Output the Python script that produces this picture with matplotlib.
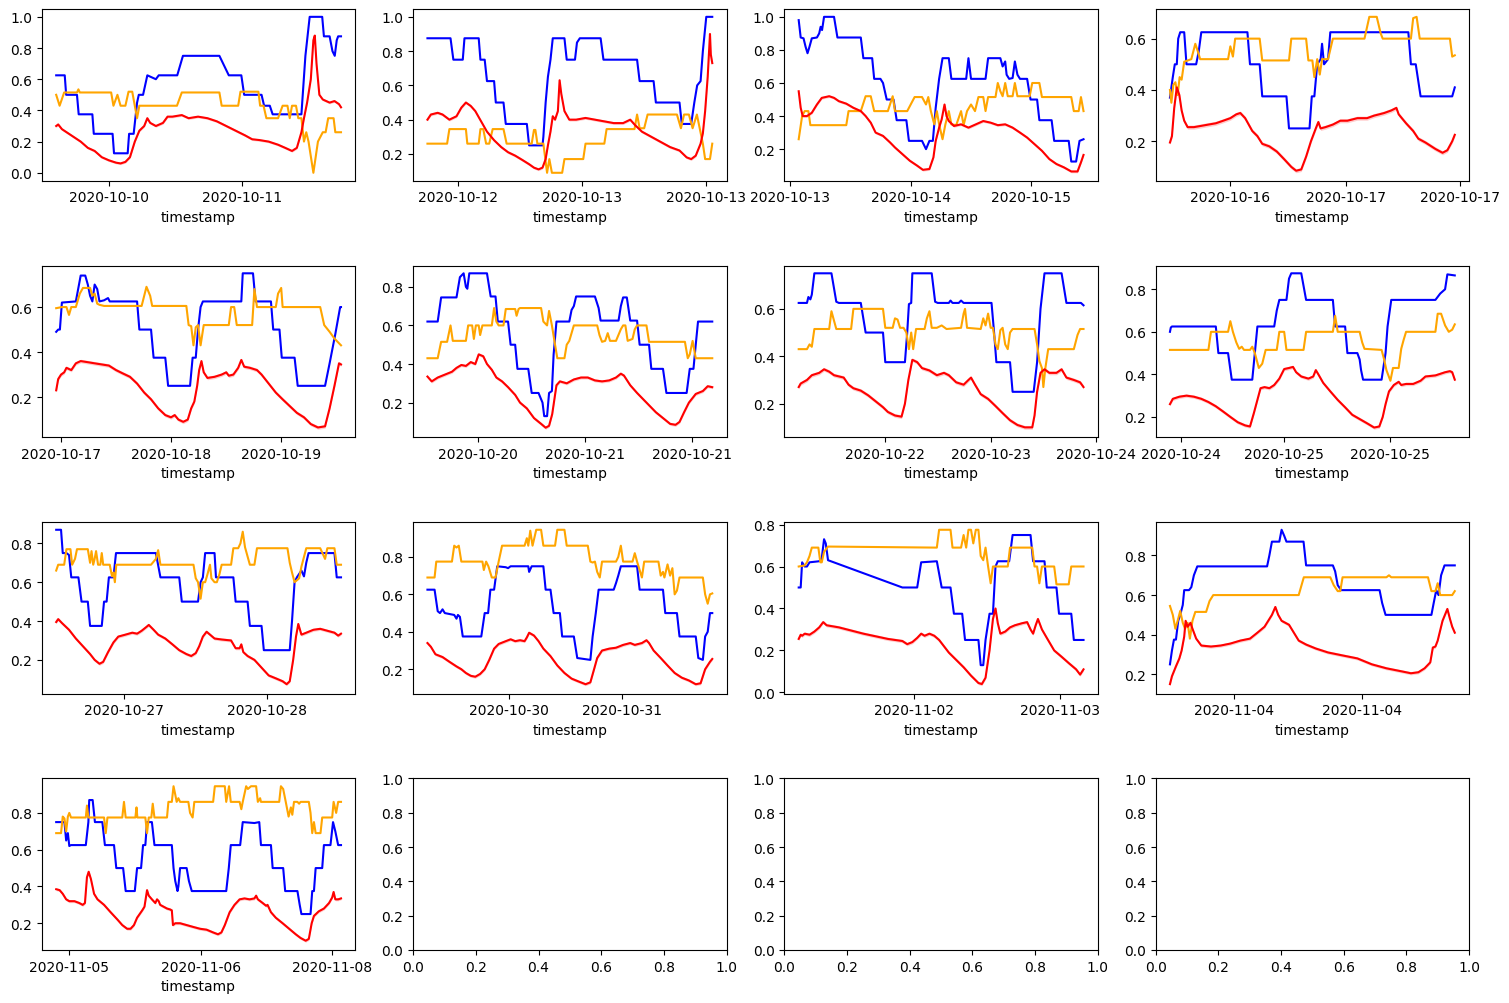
import matplotlib
matplotlib.use("Agg")
import matplotlib.pyplot as plt
import numpy as np

# ---------------- data (x = position along each window, 0..100; y = value) ----------------
P1_BLUE = [(0,.625),(3,.625),(3.5,.5),(7.3,.5),(7.9,.375),(12.7,.375),(13.2,.25),(19.8,.25),(20.3,.125),(25.1,.125),(25.6,.25),(27.2,.25),(28.4,.45),(29,.5),(30.5,.5),(32,.625),(35,.6),(36,.625),(42.5,.625),(44.5,.75),(57.3,.75),(60.6,.625),(65,.625),(66,.5),(72.1,.5),(73,.43),(75,.43),(76,.375),(86.1,.375),(87.5,.75),(89,1.0),(93.4,1.0),(94,.875),(96,.875),(97,.78),(97.8,.75),(98.5,.85),(99,.875),(100,.875)]
P1_ORANGE = [(0,.5),(1.2,.43),(2.8,.515),(7.3,.515),(7.8,.535),(8.3,.515),(19.3,.515),(20.1,.43),(21.5,.5),(22.6,.43),(24.3,.43),(25.4,.52),(26.7,.52),(28.4,.35),(29.2,.43),(42.4,.43),(44.1,.515),(57.3,.515),(58.1,.43),(63.9,.43),(64.7,.52),(71,.52),(71.6,.43),(72.8,.43),(73.8,.35),(77.9,.35),(79.5,.43),(81.2,.43),(82,.35),(82.8,.43),(84.2,.43),(85,.35),(86.1,.35),(87,.2),(87.8,.26),(88.6,.2),(90.3,0.0),(91.9,.2),(93.6,.26),(94.6,.26),(95.5,.35),(97.4,.35),(98,.26),(100,.26)]
P1_RED = [(0,.30),(0.7,.31),(2,.28),(5.3,.24),(8.6,.2),(11.1,.16),(13.5,.14),(16,.1),(18.5,.08),(21,.065),(22.6,.06),(24.3,.07),(25.9,.1),(27.6,.2),(29.2,.27),(30.9,.3),(32,.35),(33,.32),(35,.3),(37.5,.32),(39.1,.36),(40.8,.36),(44.1,.37),(46.5,.35),(49.8,.36),(53.1,.35),(56.4,.33),(59.7,.3),(63,.27),(66.3,.24),(68.8,.215),(71.3,.21),(74.6,.2),(77.9,.18),(80.4,.16),(82.8,.14),(84.5,.16),(86.1,.26),(87,.35),(88.1,.45),(89.4,.6),(90.3,.85),(90.8,.88),(91.4,.7),(92.4,.5),(93.6,.47),(96,.45),(97.7,.46),(99.3,.44),(100,.42)]
P1_TICKS = [18.6, 65.2]
P1_LABELS = ["2020-10-10", "2020-10-11"]

P2_BLUE = [(0,.875),(8.1,.875),(9.1,.75),(12.4,.75),(13,.875),(18,.875),(18.6,.75),(20.1,.75),(20.9,.625),(23.4,.625),(24,.5),(26.7,.5),(27.5,.375),(34.9,.375),(35.7,.25),(40.4,.25),(40.7,.3),(41.5,.5),(42.3,.65),(43.2,.75),(44,.875),(48.1,.875),(48.9,.75),(51.8,.75),(52.5,.85),(53.5,.875),(60.8,.875),(61.8,.75),(73.6,.75),(74.5,.625),(79.4,.625),(80.2,.5),(88.5,.5),(89.3,.375),(92.6,.375),(93.7,.5),(94.7,.6),(95.9,.625),(96.7,.8),(97.9,1.0),(100,1.0)]
P2_ORANGE = [(0,.26),(6.9,.26),(7.7,.345),(13.5,.345),(14,.26),(18,.26),(18.6,.345),(19.6,.345),(20.6,.26),(21.7,.26),(22.9,.345),(26.7,.345),(27.8,.26),(36.6,.26),(37.4,.34),(37.9,.34),(38.6,.26),(40.7,.26),(42,.09),(42.8,.17),(43.7,.09),(47.3,.09),(48.1,.17),(54.7,.17),(55.5,.26),(62.1,.26),(62.9,.345),(72.7,.345),(73.6,.43),(74.5,.35),(76.1,.35),(77.3,.43),(87.6,.43),(89,.35),(90.1,.43),(91.8,.43),(93.1,.35),(94.6,.43),(96.7,.26),(97.5,.17),(99.2,.17),(100,.26)]
P2_RED = [(0,.40),(1.2,.43),(3.6,.44),(5.3,.43),(7.7,.40),(10.2,.42),(11.9,.47),(13.5,.50),(15.2,.48),(16.8,.45),(18.5,.40),(20.9,.33),(23.4,.28),(25.9,.24),(28.3,.21),(30.8,.19),(33.3,.165),(35.7,.14),(37.4,.12),(39,.11),(40.4,.12),(41.5,.17),(42.3,.25),(43.2,.33),(44,.42),(44.8,.40),(45.8,.45),(46.4,.63),(47,.55),(48.1,.45),(49.8,.40),(52.2,.40),(55.5,.41),(58.8,.40),(62.1,.39),(65.4,.38),(68.7,.38),(71.2,.40),(72.8,.37),(75.3,.33),(78.6,.30),(81.9,.27),(85.2,.24),(88.5,.22),(91,.18),(92.6,.17),(94.2,.19),(95.9,.26),(96.7,.32),(97.5,.45),(98.4,.65),(99.2,.90),(99.5,.78),(100,.73)]
P2_TICKS = [10.7, 54.4, 97.9]
P2_LABELS = ["2020-10-12", "2020-10-13", "2020-10-13"]

P3_BLUE = [(0,.98),(0.7,.875),(1.7,.87),(2.4,.82),(3.1,.78),(3.8,.82),(4.6,.87),(6.4,.875),(7.2,.9),(7.7,.94),(8.2,.92),(8.9,1.0),(12.4,1.0),(13.6,.875),(21.8,.875),(22.7,.75),(25.8,.75),(26.5,.625),(28.7,.625),(29.6,.6),(30.9,.5),(33.3,.5),(34.4,.375),(37.8,.375),(38.7,.25),(43.3,.25),(44.7,.2),(45.9,.25),(47.1,.25),(48.1,.45),(49.3,.625),(50.5,.75),(52.7,.75),(53.6,.625),(58.8,.625),(59.6,.75),(60.5,.625),(65.6,.625),(66.5,.75),(70.8,.75),(71.6,.7),(72.5,.73),(73,.65),(73.9,.625),(75.1,.63),(75.9,.73),(76.8,.65),(77.7,.625),(80.2,.625),(81.4,.5),(83.7,.5),(84.5,.375),(88.8,.375),(89.7,.25),(94.8,.25),(95.7,.125),(97.4,.125),(98.6,.25),(100,.26)]
P3_ORANGE = [(0,.26),(1.2,.40),(2.1,.43),(3.4,.43),(4.1,.345),(16.7,.345),(17.5,.43),(21.8,.43),(23.5,.52),(25.3,.52),(26.5,.43),(31.3,.43),(33,.52),(33.8,.43),(38.1,.43),(40.7,.515),(43.3,.515),(44.7,.47),(45.5,.515),(46.4,.43),(47.6,.35),(48.5,.43),(49.3,.35),(50.5,.26),(51.5,.35),(52.7,.43),(53.6,.35),(55.3,.345),(57,.43),(57.9,.345),(59.1,.43),(60.5,.47),(61.9,.43),(63.1,.515),(64.8,.515),(65.6,.43),(66.5,.515),(69.1,.515),(69.9,.6),(70.8,.55),(71.6,.52),(72.5,.6),(73.4,.52),(75.1,.52),(75.9,.6),(76.8,.52),(81.1,.52),(82,.6),(84.5,.6),(85.4,.515),(95.7,.515),(96.6,.43),(98.3,.43),(99.1,.515),(100,.43)]
P3_RED = [(0,.55),(0.7,.45),(1.4,.40),(2.9,.40),(4.6,.42),(6.4,.47),(8.1,.51),(10.7,.52),(12.4,.51),(14.1,.49),(16.7,.475),(19.2,.45),(21.8,.43),(23.5,.40),(25.3,.36),(27,.30),(29.6,.28),(32.1,.24),(33.8,.21),(36.4,.17),(39,.13),(41.6,.10),(43.6,.075),(45.9,.08),(47.3,.15),(48.1,.25),(49.3,.33),(50.2,.38),(51.2,.47),(51.9,.40),(52.7,.37),(54.5,.34),(57,.35),(59.6,.33),(62.2,.35),(64.8,.37),(67.4,.36),(69.9,.345),(72.5,.35),(75.1,.33),(77.7,.30),(80.2,.27),(82.8,.23),(85.4,.19),(88,.14),(90.5,.11),(93.1,.09),(95.7,.065),(97.9,.065),(99.1,.12),(100,.165)]
P3_TICKS = [-3.1, 39.5, 81.4]
P3_LABELS = ["2020-10-13", "2020-10-14", "2020-10-15"]

P4_BLUE = [(0,.37),(1,.45),(1.7,.5),(2.4,.5),(2.9,.6),(3.6,.625),(5,.625),(5.8,.5),(9.2,.5),(10.1,.55),(11,.625),(27.2,.625),(28.1,.5),(31.5,.5),(32.4,.375),(40.9,.375),(41.8,.25),(49,.25),(49.8,.375),(50.7,.375),(51.7,.5),(52.9,.52),(53.4,.58),(54.1,.5),(55.5,.52),(56.3,.625),(83.7,.625),(84.6,.5),(86.3,.5),(88,.375),(99.1,.375),(100,.41)]
P4_ORANGE = [(0,.40),(0.5,.35),(1.2,.42),(1.9,.43),(2.7,.38),(3.4,.45),(4.1,.44),(5,.51),(7.5,.52),(8.9,.58),(9.8,.55),(10.6,.52),(20.4,.52),(21.2,.57),(22.1,.53),(22.9,.6),(31.5,.6),(32.4,.515),(41.8,.515),(42.6,.6),(47.8,.6),(48.6,.515),(50,.515),(50.7,.45),(51.7,.52),(52.6,.46),(53.4,.52),(55.5,.52),(57.2,.6),(68.3,.6),(70,.685),(72.6,.685),(74,.62),(74.7,.6),(84.6,.6),(85.4,.68),(86.6,.685),(87.7,.6),(98.3,.6),(99.1,.53),(100,.535)]
P4_RED = [(0,.195),(0.7,.22),(1.5,.33),(2.4,.41),(3.3,.38),(4.1,.32),(5,.28),(6.2,.255),(8.4,.255),(11,.26),(13.5,.265),(16.1,.27),(18.7,.28),(21.2,.29),(23.3,.305),(24.7,.31),(26.4,.29),(28.9,.24),(30.7,.22),(32.4,.19),(34.9,.18),(37.5,.16),(40.1,.13),(42.6,.10),(44.3,.085),(46.1,.09),(47.8,.14),(49.5,.20),(51.2,.25),(52.1,.275),(52.9,.25),(54.6,.255),(57.2,.265),(59.8,.28),(62.3,.28),(65.8,.29),(69.2,.29),(71.7,.30),(73.5,.305),(75.2,.31),(77.7,.32),(79.5,.33),(80.3,.305),(82.9,.27),(85.4,.24),(87.2,.21),(89.7,.195),(93.2,.17),(95.7,.155),(97.4,.165),(99.1,.20),(100,.225)]
P4_TICKS = [21.2, 61.8, 101.7]
P4_LABELS = ["2020-10-16", "2020-10-17", "2020-10-17"]

P5_BLUE = [(0,.49),(0.7,.5),(1.3,.5),(2,.62),(6.9,.625),(8.6,.74),(10.2,.74),(11.1,.7),(11.9,.65),(12.7,.625),(13.5,.7),(14.4,.68),(15.2,.625),(16.8,.63),(18.2,.64),(18.8,.625),(28.4,.625),(29.2,.5),(33.3,.5),(34.2,.375),(38.3,.375),(39.3,.25),(47,.25),(47.9,.375),(49,.375),(49.8,.5),(50.7,.6),(51.5,.625),(65,.625),(65.5,.75),(69.1,.75),(70,.625),(75.4,.625),(76.2,.5),(78.4,.5),(79.2,.375),(83.7,.375),(84.8,.25),(94.4,.25),(96,.35),(98,.48),(99.7,.6),(100,.6)]
P5_ORANGE = [(0,.595),(2,.60),(3.6,.6),(4.5,.565),(5.3,.6),(6.9,.6),(8.3,.66),(9.4,.685),(11.9,.685),(12.7,.65),(13.5,.66),(14.4,.615),(15.2,.61),(16.8,.605),(30,.605),(30.9,.65),(31.7,.69),(33,.65),(33.7,.605),(45.7,.605),(46.5,.52),(47.4,.515),(48.2,.43),(49,.51),(49.8,.52),(50.7,.43),(51.8,.52),(60.6,.52),(61.4,.6),(62.5,.6),(63.4,.52),(68.8,.52),(69.6,.68),(70.5,.6),(77.1,.6),(77.9,.66),(79,.685),(79.5,.6),(92.7,.6),(94.1,.52),(96,.49),(97.7,.46),(100,.43)]
P5_RED = [(0,.23),(0.7,.28),(1.7,.30),(2.8,.31),(3.6,.33),(5.3,.32),(6.9,.35),(8.6,.36),(11.1,.355),(13.5,.35),(16,.345),(18.5,.34),(21,.32),(23.4,.305),(25.9,.29),(28.4,.26),(30.9,.22),(33.3,.19),(35.8,.15),(38.3,.12),(40.3,.11),(41.6,.12),(42.9,.10),(44.6,.09),(46.2,.10),(47.4,.15),(48.5,.18),(49.5,.25),(50.2,.32),(51,.36),(51.8,.31),(53.1,.285),(55.6,.29),(58.1,.30),(59.7,.31),(60.6,.295),(62.2,.30),(63.9,.33),(65,.365),(66,.335),(68,.33),(70.5,.32),(72.1,.30),(74.6,.26),(77.1,.22),(79.5,.19),(82,.16),(84.5,.13),(87,.11),(89.4,.08),(91.9,.065),(94.4,.07),(96,.15),(97.7,.25),(99.3,.35),(100,.345)]
P5_TICKS = [1.7, 40.3, 79.0]
P5_LABELS = ["2020-10-17", "2020-10-18", "2020-10-19"]

P6_BLUE = [(0,.62),(3.6,.62),(4.8,.745),(10.2,.745),(11.4,.85),(12.7,.87),(13.5,.8),(14,.79),(14.7,.87),(20.9,.87),(22.2,.75),(23.9,.75),(24.7,.62),(28.3,.62),(29.2,.5),(30.8,.5),(31.6,.375),(35.4,.375),(36.6,.25),(39,.25),(40.4,.2),(41,.13),(42,.13),(42.7,.25),(43.7,.26),(44.3,.45),(45.3,.62),(49.8,.62),(50.6,.68),(51.4,.7),(52.2,.75),(58.8,.75),(60.1,.69),(60.8,.625),(67.1,.625),(67.9,.7),(68.7,.745),(70,.745),(71.2,.625),(73.6,.625),(74.5,.5),(77.8,.5),(78.6,.375),(82.7,.375),(83.9,.25),(91,.25),(92.1,.375),(93.4,.375),(94.2,.5),(95,.62),(100,.62)]
P6_ORANGE = [(0,.43),(3.6,.43),(4.8,.515),(6.9,.515),(8.1,.6),(8.9,.52),(13.5,.52),(14.3,.6),(15.7,.6),(16.3,.53),(17,.6),(18,.6),(18.5,.55),(19.3,.6),(22.6,.6),(23.4,.69),(24.2,.62),(25,.6),(26.7,.6),(27.5,.685),(30.8,.685),(31.3,.65),(32,.685),(32.5,.69),(39.9,.69),(40.7,.62),(42,.6),(42.7,.675),(43.7,.6),(44.8,.5),(45.6,.43),(48.1,.43),(48.9,.5),(49.8,.52),(51.4,.6),(59.6,.6),(60.4,.55),(61.3,.515),(62.4,.52),(63.3,.56),(64.1,.52),(66.2,.52),(67.9,.58),(68.7,.6),(69.5,.6),(70.3,.52),(72,.53),(72.8,.58),(73.6,.6),(76.9,.6),(77.8,.515),(90.4,.515),(91.4,.43),(92.1,.45),(93.1,.52),(94.2,.43),(100,.43)]
P6_RED = [(0,.335),(1.5,.31),(3.6,.33),(6.1,.345),(8.6,.36),(10.2,.38),(11.9,.395),(13.5,.39),(15.2,.41),(16.8,.40),(18,.45),(19.6,.44),(20.9,.40),(22.6,.37),(24.2,.33),(26.2,.31),(28.3,.28),(30.8,.24),(32.5,.20),(34.9,.17),(37.4,.12),(39.9,.09),(41.5,.07),(42.7,.08),(43.8,.14),(44.6,.22),(45.3,.29),(46.5,.31),(48.9,.30),(51.4,.32),(53.9,.33),(56.3,.33),(58.8,.315),(61.3,.31),(63.8,.315),(66.2,.33),(67.9,.35),(69,.34),(71.2,.29),(73.6,.25),(76.9,.20),(80.2,.15),(82.7,.12),(85.2,.09),(87.1,.085),(88.5,.10),(90.1,.15),(91.8,.20),(94.2,.245),(96.7,.26),(98.4,.285),(100,.28)]
P6_TICKS = [17.6, 55.2, 92.9]
P6_LABELS = ["2020-10-20", "2020-10-21", "2020-10-21"]

P7_BLUE = [(0,.625),(2.9,.625),(3.4,.65),(4.1,.64),(4.6,.66),(5.5,.75),(11.5,.75),(13.2,.63),(14.1,.625),(21.8,.625),(23.5,.5),(29.6,.5),(30.4,.375),(37.3,.375),(38.1,.5),(38.7,.62),(39.5,.625),(39.9,.75),(46.7,.75),(47.9,.63),(48.8,.625),(52.7,.625),(53.3,.635),(54,.625),(56.2,.625),(57,.635),(57.9,.625),(67.7,.625),(68.6,.5),(69.4,.375),(74.2,.375),(75.1,.25),(82.5,.25),(83.7,.375),(84.9,.6),(86.3,.75),(92.3,.75),(94,.625),(99.1,.625),(100,.615)]
P7_ORANGE = [(0,.43),(2.9,.43),(3.8,.45),(4.6,.44),(5.5,.515),(10.7,.515),(11.5,.59),(12.4,.55),(13.2,.515),(18.4,.515),(19.2,.6),(29.6,.6),(30.4,.52),(33,.52),(33.8,.56),(34.7,.555),(35.6,.52),(36.8,.52),(37.8,.5),(38.7,.43),(39.5,.5),(40.2,.43),(41.2,.515),(44.2,.515),(45,.56),(45.9,.59),(46.7,.52),(48.5,.52),(50.2,.53),(51.9,.515),(57,.52),(57.9,.58),(58.4,.6),(59.1,.52),(63.9,.515),(64.8,.56),(65.6,.53),(66.5,.58),(67.4,.52),(68.2,.52),(69.1,.45),(69.9,.43),(70.8,.51),(71.6,.52),(72.5,.45),(73.4,.43),(74.2,.5),(75.1,.515),(82.8,.515),(83.7,.45),(84.5,.38),(85.4,.35),(85.9,.27),(86.6,.35),(87.6,.43),(96.6,.43),(97.9,.49),(98.8,.515),(100,.515)]
P7_RED = [(0,.27),(0.7,.285),(2.9,.30),(4.6,.32),(7.2,.33),(8.9,.345),(10.7,.335),(12.4,.32),(14.1,.315),(15.8,.31),(17.5,.28),(19.2,.265),(21.8,.255),(24.4,.235),(27,.21),(29.6,.185),(31.3,.165),(33.8,.15),(36.1,.145),(37.3,.20),(38.5,.30),(39.9,.385),(41.6,.375),(43.3,.35),(45.9,.34),(48.5,.32),(51,.33),(52.7,.32),(55.3,.29),(57.9,.28),(59.6,.30),(60.5,.31),(61.9,.28),(63.9,.24),(66.5,.22),(69.1,.19),(71.6,.16),(74.2,.13),(76.8,.11),(79.4,.10),(82,.10),(82.8,.15),(83.7,.25),(84.9,.33),(86.3,.345),(88,.33),(90.5,.33),(92.3,.345),(94,.31),(96.6,.30),(98.8,.29),(100,.27)]
P7_TICKS = [30.2, 67.4, 104.3]
P7_LABELS = ["2020-10-22", "2020-10-23", "2020-10-24"]

P8_BLUE = [(0,.6),(0.3,.62),(0.7,.625),(16.1,.625),(17,.5),(20.4,.5),(21.7,.375),(28.9,.375),(29.8,.5),(30.7,.625),(36.6,.625),(37.5,.7),(38.4,.75),(40.9,.75),(41.8,.85),(42.6,.875),(46.1,.875),(47.8,.75),(57.2,.75),(58,.625),(61.5,.625),(62.3,.5),(65.8,.5),(66.6,.47),(67.1,.42),(67.8,.375),(74.3,.375),(75.7,.5),(76.4,.625),(77.7,.75),(93.2,.75),(94.9,.78),(96.6,.8),(97.4,.87),(100,.865)]
P8_ORANGE = [(0,.515),(13.5,.515),(14.4,.6),(20.4,.6),(21.2,.65),(22.1,.6),(23.3,.55),(24.3,.52),(25.2,.53),(26,.515),(28.1,.515),(28.9,.53),(29.8,.5),(31.2,.43),(32.4,.45),(33.6,.515),(37.5,.515),(38.4,.6),(40.1,.6),(40.9,.515),(46.9,.515),(47.8,.6),(57.2,.6),(58,.675),(58.9,.6),(66.6,.6),(67.5,.55),(68.3,.52),(74.3,.515),(75.2,.47),(76,.42),(77.4,.37),(78.3,.43),(80.3,.43),(81.2,.52),(82,.56),(82.9,.6),(93.2,.6),(94,.685),(95.2,.685),(96.6,.63),(97.9,.6),(99.1,.61),(100,.635)]
P8_RED = [(0,.26),(1,.285),(3.3,.295),(5.8,.30),(8.4,.295),(11,.285),(13.5,.27),(16.1,.25),(18.7,.225),(21.2,.20),(23.8,.175),(26.4,.16),(28.1,.155),(29.5,.22),(30.7,.28),(31.8,.335),(33.2,.34),(34.9,.335),(36.6,.35),(38.4,.38),(40.1,.425),(41.8,.43),(43.2,.435),(44.3,.41),(46.1,.39),(48.6,.38),(50.3,.39),(51.2,.42),(52.1,.40),(53.8,.36),(56.3,.32),(58.9,.28),(61.5,.245),(64,.21),(66.6,.19),(69.2,.17),(71.7,.15),(73.5,.155),(74.7,.20),(75.7,.26),(76.9,.32),(78.6,.35),(80.3,.365),(81.2,.35),(82.9,.355),(85.4,.355),(88,.37),(89.7,.39),(93.2,.395),(96.6,.41),(98.3,.415),(99.1,.41),(100,.375)]
P8_TICKS = [3.8, 40.1, 77.2]
P8_LABELS = ["2020-10-24", "2020-10-25", "2020-10-25"]

P9_BLUE = [(0,.87),(1.7,.87),(2.3,.75),(3.6,.75),(4.5,.74),(5.3,.625),(7.8,.625),(8.9,.5),(11.1,.5),(11.9,.375),(16,.375),(16.8,.5),(17.7,.5),(18.5,.625),(20.1,.625),(21,.75),(35,.75),(36.6,.625),(43.2,.625),(44.1,.5),(49.8,.5),(50.7,.6),(51.5,.625),(52.3,.75),(55.6,.75),(56.1,.625),(62.2,.625),(63,.5),(67.2,.5),(68,.375),(72.1,.375),(72.9,.25),(82,.25),(82.8,.4),(83.7,.6),(84.5,.625),(86.1,.66),(87,.63),(87.8,.7),(88.6,.75),(97.7,.75),(98.5,.625),(100,.625)]
P9_ORANGE = [(0,.66),(0.7,.69),(2.8,.69),(3.6,.77),(5,.77),(5.6,.69),(6.6,.72),(7.3,.77),(11.1,.77),(11.9,.7),(12.4,.76),(13,.69),(13.5,.72),(14,.76),(14.7,.69),(15.5,.69),(16,.75),(16.5,.69),(18.8,.69),(19.6,.63),(20.1,.65),(20.6,.6),(21.1,.69),(33.3,.69),(35,.72),(35.8,.765),(36.6,.69),(48.2,.69),(49,.62),(49.8,.6),(50.7,.515),(51.5,.6),(52.3,.6),(53.1,.64),(54,.69),(54.5,.62),(55.6,.6),(56.4,.6),(57.3,.64),(58.1,.69),(61.4,.69),(62.2,.775),(63.9,.775),(64.7,.8),(65.5,.86),(66.3,.78),(68,.69),(69.6,.69),(70.5,.775),(81.2,.775),(82,.7),(82.8,.65),(83.7,.6),(85.3,.62),(86.1,.68),(87.8,.775),(92.7,.775),(94.4,.72),(95.2,.775),(97.7,.775),(98.5,.69),(100,.69)]
P9_RED = [(0,.395),(0.7,.41),(2,.39),(4.5,.355),(6.9,.31),(9.4,.27),(11.9,.23),(13.5,.20),(15.2,.18),(16.5,.19),(18.2,.24),(20.1,.29),(21.8,.32),(24.3,.33),(26.7,.34),(28.4,.335),(30,.35),(31.7,.37),(32.5,.38),(34.2,.355),(35.8,.33),(38.3,.31),(40.8,.28),(43.2,.25),(45.7,.23),(47.4,.22),(49,.235),(50.2,.27),(51.5,.32),(52.8,.345),(54,.33),(55.6,.31),(58.1,.305),(61.4,.30),(63,.26),(64.4,.26),(65,.28),(65.7,.24),(67.2,.22),(69.6,.20),(72.1,.16),(74.6,.12),(77.1,.105),(79.5,.09),(80.9,.075),(82,.09),(83.2,.20),(84.2,.32),(85,.385),(86.1,.33),(87.8,.34),(90.3,.355),(92.7,.36),(95.2,.35),(97.7,.34),(99,.325),(100,.335)]
P9_TICKS = [23.9, 73.9]
P9_LABELS = ["2020-10-27", "2020-10-28"]

P10_BLUE = [(0,.625),(2.5,.625),(3.6,.51),(4.4,.5),(5.3,.52),(6.1,.5),(9.4,.49),(10.2,.47),(10.7,.49),(11.4,.48),(12.4,.375),(18.9,.375),(20.1,.5),(21.3,.5),(22.1,.625),(23.4,.625),(24.5,.75),(27.5,.745),(28.3,.74),(29.2,.75),(35.4,.75),(35.7,.72),(36.6,.75),(40.7,.75),(41.5,.625),(43.2,.625),(44.3,.5),(46.5,.5),(47.3,.375),(51.4,.375),(52.6,.26),(57.2,.25),(58,.375),(59.1,.5),(60.1,.625),(65.4,.625),(66.2,.66),(67,.7),(67.9,.75),(73.6,.75),(74.5,.625),(82.7,.625),(83.5,.5),(87.6,.5),(88.5,.375),(94.2,.375),(95.1,.26),(96.7,.25),(97.5,.375),(98.4,.4),(99.2,.5),(100,.5)]
P10_ORANGE = [(0,.69),(2.5,.69),(3.1,.775),(8.6,.775),(9.4,.86),(10.2,.85),(11,.86),(11.9,.775),(19.3,.775),(19.8,.73),(20.6,.775),(21.4,.75),(22.6,.69),(23.9,.69),(25,.775),(26.2,.86),(34.1,.86),(34.9,.9),(35.4,.86),(36.1,.94),(36.9,.86),(38.2,.945),(39.9,.945),(40.7,.86),(44.8,.86),(45.6,.945),(48.1,.945),(48.9,.86),(56.3,.86),(57.2,.775),(58,.77),(58.8,.775),(59.6,.72),(60.5,.69),(61.3,.775),(66.2,.775),(67,.8),(67.9,.86),(68.7,.775),(72,.775),(72.8,.82),(73.6,.775),(75.3,.69),(76.1,.775),(81.1,.775),(81.9,.7),(82.7,.72),(83.2,.69),(84.3,.76),(85.2,.7),(86,.74),(86.8,.6),(87.6,.62),(88.5,.69),(96.7,.69),(97.5,.6),(98.4,.55),(99.2,.6),(100,.605)]
P10_RED = [(0,.34),(1.2,.32),(2.8,.28),(5.3,.265),(7.7,.24),(10.2,.215),(11.9,.20),(13.5,.18),(15.2,.165),(16.8,.16),(18.5,.175),(20.1,.20),(21.7,.25),(23.4,.31),(25,.335),(27.5,.35),(29.2,.36),(30.8,.35),(32.5,.355),(34.1,.35),(34.9,.37),(35.7,.395),(37.4,.38),(39,.35),(40.7,.31),(43.2,.27),(45.6,.22),(48.1,.18),(50.6,.15),(53,.135),(55.5,.12),(57.2,.13),(58.5,.20),(59.6,.26),(61.3,.30),(63.8,.31),(66.2,.315),(68.7,.33),(71.2,.34),(72.8,.33),(75.3,.34),(76.9,.355),(77.8,.34),(79.4,.30),(81.9,.26),(84.3,.22),(86.8,.18),(89.3,.155),(91.8,.14),(94.2,.12),(95.9,.125),(97.5,.20),(99.2,.24),(100,.255)]
P10_TICKS = [28.7, 68.4]
P10_LABELS = ["2020-10-30", "2020-10-31"]

P11_BLUE = [(0,.5),(0.7,.5),(1.2,.62),(2.1,.6),(2.9,.6),(3.8,.62),(7.2,.625),(8.1,.64),(8.9,.73),(9.5,.71),(10.3,.63),(36.4,.5),(41.6,.5),(43,.62),(48.5,.625),(50.2,.5),(53.3,.5),(54.5,.375),(57.4,.375),(58.4,.25),(63.1,.25),(63.9,.13),(64.8,.13),(65.6,.25),(67,.375),(68.2,.375),(69.1,.6),(69.9,.625),(73.9,.625),(75.1,.75),(81.4,.75),(82.3,.625),(86.3,.625),(87.1,.5),(90.5,.5),(91.4,.375),(95.7,.375),(96.6,.25),(100,.25)]
P11_ORANGE = [(0,.6),(2.1,.605),(2.9,.62),(3.8,.65),(4.6,.69),(6.9,.69),(7.6,.62),(8.1,.62),(8.9,.67),(10.3,.695),(48.5,.69),(49.3,.775),(53.3,.775),(54,.69),(57,.69),(57.9,.75),(58.8,.69),(59.6,.775),(60.5,.775),(61.3,.71),(62.2,.775),(63.1,.775),(63.9,.65),(64.8,.63),(65.6,.69),(66.5,.6),(67.4,.52),(68.2,.6),(73.4,.6),(74.2,.69),(82,.69),(82.8,.6),(83.7,.6),(84.5,.52),(85.4,.6),(89.7,.6),(90.5,.515),(94.8,.515),(95.7,.6),(100,.6)]
P11_RED = [(0,.255),(0.7,.275),(1.2,.27),(2.1,.28),(3.8,.275),(5.5,.29),(7.2,.31),(8.6,.335),(9.8,.32),(14.1,.31),(22.7,.28),(31.3,.255),(36.4,.245),(38.1,.23),(39.9,.24),(41.6,.26),(43,.28),(44.2,.27),(45.9,.28),(47.6,.27),(49.3,.25),(51,.22),(52.7,.19),(55.3,.155),(57.9,.12),(60.5,.08),(63.1,.045),(64.3,.04),(65.6,.07),(67,.20),(68.2,.35),(69.1,.40),(69.9,.33),(70.8,.28),(72.5,.29),(74.2,.31),(75.9,.32),(78.5,.33),(80.2,.335),(81.4,.30),(82.3,.28),(83.2,.32),(84,.35),(85.4,.30),(87.1,.26),(89.7,.20),(92.3,.17),(94.8,.14),(97.4,.11),(98.8,.085),(100,.11)]
P11_TICKS = [40.4, 91.8]
P11_LABELS = ["2020-11-02", "2020-11-03"]

P12_BLUE = [(0,.25),(0.7,.32),(1.4,.375),(2.1,.375),(2.9,.47),(3.6,.5),(4.5,.55),(5,.625),(6.7,.625),(7.5,.64),(8.4,.7),(9.6,.745),(34.1,.745),(34.9,.8),(35.8,.87),(38.4,.87),(39.2,.93),(40.1,.9),(40.9,.87),(46.9,.87),(47.8,.75),(57.2,.75),(58,.72),(58.9,.65),(60.1,.625),(73.6,.625),(74.5,.56),(75.7,.5),(91.8,.5),(92.6,.56),(93.5,.625),(94.3,.6),(95.2,.7),(96.4,.75),(100,.75)]
P12_ORANGE = [(0,.545),(1,.5),(1.9,.43),(2.7,.47),(3.6,.52),(4.5,.46),(5.3,.43),(6.2,.46),(7,.38),(7.9,.47),(8.9,.515),(12.7,.515),(13.9,.57),(15.2,.6),(45.2,.6),(47,.69),(56.3,.69),(57.5,.65),(58.9,.62),(59.8,.62),(60.6,.69),(76,.69),(76.9,.70),(77.7,.69),(90.6,.69),(91.8,.62),(93.2,.62),(94,.66),(94.9,.6),(99.1,.6),(100,.62)]
P12_RED = [(0,.15),(0.7,.19),(2.1,.24),(3.3,.28),(4.1,.32),(5,.39),(5.5,.47),(6.2,.44),(7.2,.46),(7.9,.43),(9.2,.38),(11,.345),(14.4,.34),(17.8,.345),(21.2,.355),(24.7,.37),(28.1,.38),(30.7,.41),(33.2,.44),(35.8,.50),(37,.54),(38,.50),(39.2,.47),(41.8,.45),(43.5,.41),(45.2,.37),(47.8,.35),(51.2,.33),(55.5,.31),(60.6,.295),(65.8,.28),(70.9,.25),(76,.23),(81.2,.215),(84.6,.205),(87.2,.21),(89.4,.23),(91.4,.26),(92.3,.335),(93.2,.34),(94,.37),(95.7,.47),(97.4,.53),(98.3,.48),(99.1,.44),(100,.41)]
P12_TICKS = [22.6, 67.5]
P12_LABELS = ["2020-11-04", "2020-11-04"]

P13_BLUE = [(0,.75),(2.9,.75),(3.5,.65),(4.1,.69),(4.6,.62),(5.2,.625),(10.4,.625),(11.3,.75),(11.6,.87),(12.8,.87),(13.6,.75),(16.2,.75),(17.1,.625),(20.3,.625),(21.1,.5),(23.5,.5),(24.4,.375),(27.6,.375),(28.4,.5),(29.8,.5),(30.5,.625),(31.3,.625),(31.9,.75),(33.6,.75),(34.5,.625),(40.6,.625),(41.2,.5),(41.8,.43),(42.6,.375),(42.9,.4),(43.5,.5),(45.8,.5),(46.6,.43),(47.6,.375),(59.7,.375),(60.6,.5),(61.3,.625),(64.6,.625),(65.5,.75),(69.6,.745),(71.3,.75),(71.9,.625),(75.4,.625),(76,.5),(79.7,.5),(80.4,.375),(84.7,.375),(85.5,.3),(86.1,.25),(89.3,.25),(89.9,.375),(90.5,.375),(91.1,.5),(93.4,.5),(94,.625),(96.3,.625),(97.2,.75),(98,.7),(99,.625),(100,.625)]
P13_ORANGE = [(0,.69),(1.7,.69),(2.3,.78),(2.9,.77),(3.5,.7),(4.1,.78),(4.6,.8),(5.2,.775),(10.4,.775),(10.8,.84),(11.3,.775),(16.8,.775),(17.4,.69),(18,.775),(23.2,.775),(23.8,.86),(24.4,.775),(27.8,.775),(28.2,.83),(28.5,.775),(31.3,.775),(31.9,.69),(32.5,.775),(33.4,.775),(33.9,.85),(34.5,.775),(38.9,.775),(39.4,.86),(40.6,.86),(41.2,.945),(41.8,.9),(42.3,.86),(42.9,.88),(43.5,.86),(46.4,.86),(47,.8),(47.9,.775),(48.5,.86),(55.1,.86),(55.7,.945),(59.2,.945),(59.7,.86),(60.7,.945),(61.3,.86),(64.4,.86),(65,.82),(65.5,.86),(66.7,.945),(67.3,.93),(68.4,.945),(70.2,.945),(70.8,.86),(71.6,.88),(71.9,.86),(78.3,.86),(78.9,.945),(79.7,.93),(80.6,.86),(81.6,.78),(82.4,.83),(82.9,.79),(83.5,.86),(84.7,.86),(85.3,.85),(85.8,.86),(88.7,.86),(89.3,.8),(89.9,.69),(90.5,.75),(91.1,.69),(92.8,.69),(93.4,.775),(96.9,.775),(97.4,.86),(98.3,.8),(99,.86),(100,.86)]
P13_RED = [(0,.385),(1.2,.38),(2.3,.36),(3.5,.33),(4.6,.32),(6.4,.32),(8.1,.31),(9.3,.30),(10.1,.31),(10.8,.45),(11.4,.48),(12.2,.44),(13.3,.36),(14.5,.33),(16.8,.30),(19.1,.26),(21.5,.22),(23.2,.19),(24.9,.17),(26.1,.17),(27.3,.19),(28.4,.23),(30.2,.27),(31,.29),(31.9,.38),(32.5,.35),(33.6,.33),(34.8,.31),(35.4,.33),(36,.32),(36.5,.30),(37.7,.29),(38.9,.28),(40,.275),(40.6,.27),(41,.19),(41.8,.20),(43.5,.20),(45.8,.19),(48.1,.18),(50.5,.17),(52.8,.165),(55.1,.15),(56.8,.14),(58,.15),(59.2,.19),(60.9,.26),(62.6,.30),(64.4,.33),(66.1,.335),(67.9,.33),(69.6,.335),(70.2,.35),(70.8,.33),(72.5,.31),(73.7,.295),(74.2,.30),(75.4,.26),(77.1,.23),(79.5,.20),(81.8,.17),(84.1,.14),(85.8,.12),(87.6,.105),(88.7,.115),(89.7,.20),(90.5,.24),(92.2,.265),(94,.28),(95.8,.31),(96.9,.34),(97.4,.37),(98,.33),(99,.33),(100,.335)]
P13_TICKS = [4.6, 51.0, 96.9]
P13_LABELS = ["2020-11-05", "2020-11-06", "2020-11-08"]

PANELS = [
    (P1_BLUE, P1_ORANGE, P1_RED, P1_TICKS, P1_LABELS),
    (P2_BLUE, P2_ORANGE, P2_RED, P2_TICKS, P2_LABELS),
    (P3_BLUE, P3_ORANGE, P3_RED, P3_TICKS, P3_LABELS),
    (P4_BLUE, P4_ORANGE, P4_RED, P4_TICKS, P4_LABELS),
    (P5_BLUE, P5_ORANGE, P5_RED, P5_TICKS, P5_LABELS),
    (P6_BLUE, P6_ORANGE, P6_RED, P6_TICKS, P6_LABELS),
    (P7_BLUE, P7_ORANGE, P7_RED, P7_TICKS, P7_LABELS),
    (P8_BLUE, P8_ORANGE, P8_RED, P8_TICKS, P8_LABELS),
    (P9_BLUE, P9_ORANGE, P9_RED, P9_TICKS, P9_LABELS),
    (P10_BLUE, P10_ORANGE, P10_RED, P10_TICKS, P10_LABELS),
    (P11_BLUE, P11_ORANGE, P11_RED, P11_TICKS, P11_LABELS),
    (P12_BLUE, P12_ORANGE, P12_RED, P12_TICKS, P12_LABELS),
    (P13_BLUE, P13_ORANGE, P13_RED, P13_TICKS, P13_LABELS),
]

BAND = 0.008  # half-width of the red confidence band

fig, axes = plt.subplots(4, 4, figsize=(15.09, 10.04), dpi=100)
fig.subplots_adjust(left=0.0278, right=0.9735, top=0.990, bottom=0.0528,
                    wspace=0.185, hspace=0.495)
axes = axes.ravel()

for ax, (blue, orange, red, ticks, labels) in zip(axes, PANELS):
    bx, by = zip(*blue)
    ox, oy = zip(*orange)
    rx, ry = zip(*red)
    ax.plot(bx, by, color="blue", lw=1.5)
    ax.plot(ox, oy, color="orange", lw=1.5)
    ry = np.array(ry)
    ax.fill_between(rx, ry - BAND, ry + BAND, color="red", alpha=0.2, lw=0)
    ax.plot(rx, ry, color="red", lw=1.5)
    ax.set_xticks(ticks, labels)
    ax.set_xlabel("timestamp")

fig.savefig("out.png", dpi=100)
